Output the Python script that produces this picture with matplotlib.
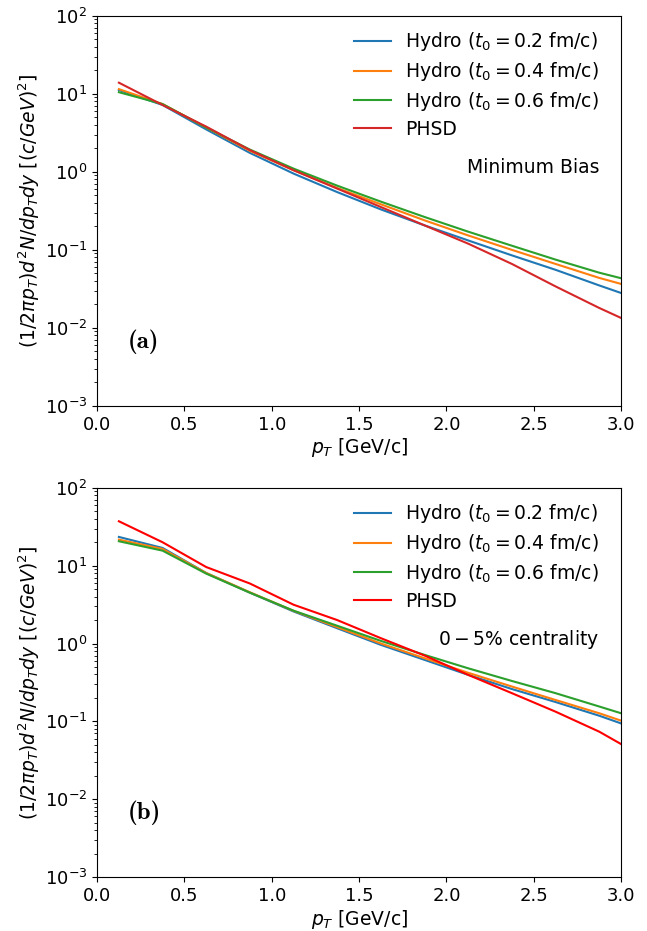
import numpy as np
import matplotlib
matplotlib.use("Agg")
import matplotlib.pyplot as plt

# pT bin centres (GeV/c); the last point sits at the axis edge
pt = [0.125, 0.375, 0.625, 0.875, 1.125, 1.375, 1.625, 1.875,
      2.125, 2.375, 2.625, 2.875, 3.0]

# (a) minimum bias
mb_hydro_02 = [11.2, 7.2, 3.5, 1.75, 0.95, 0.55, 0.33, 0.206,
               0.132, 0.085, 0.0555, 0.035, 0.028]
mb_hydro_04 = [11.5, 7.4, 3.7, 1.86, 1.05, 0.62, 0.384, 0.239,
               0.153, 0.100, 0.066, 0.0437, 0.0366]
mb_hydro_06 = [10.5, 7.4, 3.7, 1.93, 1.10, 0.665, 0.415, 0.264,
               0.171, 0.113, 0.075, 0.0510, 0.0433]
mb_phsd = [13.9, 7.2, 3.8, 1.9, 1.05, 0.61, 0.354, 0.206,
           0.120, 0.066, 0.034, 0.018, 0.0134]

# (b) 0-5% centrality
c05_hydro_02 = [23.4, 16.9, 8.05, 4.5, 2.58, 1.57, 0.96, 0.616,
                0.395, 0.26, 0.177, 0.118, 0.094]
c05_hydro_04 = [21.6, 16.4, 8.05, 4.55, 2.63, 1.62, 1.0, 0.647,
                0.42, 0.28, 0.188, 0.127, 0.102]
c05_hydro_06 = [20.6, 15.6, 7.9, 4.5, 2.64, 1.69, 1.08, 0.714,
                0.48, 0.33, 0.23, 0.155, 0.127]
c05_phsd = [37.2, 20.0, 9.6, 5.9, 3.15, 2.0, 1.17, 0.70,
            0.395, 0.23, 0.133, 0.0736, 0.051]

hydro_labels = [r'Hydro ($t_0 = 0.2$ fm/c)',
                r'Hydro ($t_0 = 0.4$ fm/c)',
                r'Hydro ($t_0 = 0.6$ fm/c)']

ylabel = r'$(1/2\pi p_T)d^2N/dp_Tdy$ [$(c/GeV)^2$]'
FS = 13.5


def draw_panel(ax, hydro, phsd, phsd_color, tag, note):
    colors = ['tab:blue', 'tab:orange', 'tab:green']
    for y, c, lab in zip(hydro, colors, hydro_labels):
        ax.plot(pt, y, color=c, lw=1.5, label=lab)
    ax.plot(pt, phsd, color=phsd_color, lw=1.5, label='PHSD')
    ax.set_yscale('log')
    ax.set_xlim(0, 3.0)
    ax.set_ylim(1e-3, 1e2)
    ax.set_xticks(np.arange(0, 3.01, 0.5))
    ax.set_xlabel(r'$p_T$ [GeV/c]', fontsize=FS, labelpad=2)
    ax.set_ylabel(ylabel, fontsize=FS, labelpad=2)
    ax.tick_params(labelsize=13)
    ax.legend(loc='upper right', frameon=False, fontsize=FS,
              handlelength=2.0, labelspacing=0.36, handletextpad=0.75,
              borderaxespad=0.5, bbox_to_anchor=(0.99, 1.006))
    ax.text(0.958, 0.61, note, transform=ax.transAxes, ha='right',
            va='center', fontsize=FS)
    ax.text(0.058, 0.164, tag, transform=ax.transAxes, ha='left',
            va='center', fontsize=18, fontfamily='cmb10')


fig = plt.figure(figsize=(6.47, 9.31), dpi=100)
ax1 = fig.add_axes([0.150, 0.564, 0.810, 0.419])
ax2 = fig.add_axes([0.150, 0.058, 0.810, 0.418])

draw_panel(ax1, [mb_hydro_02, mb_hydro_04, mb_hydro_06], mb_phsd,
           'tab:red', '(a)', 'Minimum Bias')
draw_panel(ax2, [c05_hydro_02, c05_hydro_04, c05_hydro_06], c05_phsd,
           'red', '(b)', r'$0-5\%$ centrality')

fig.savefig('out.png', dpi=100)
